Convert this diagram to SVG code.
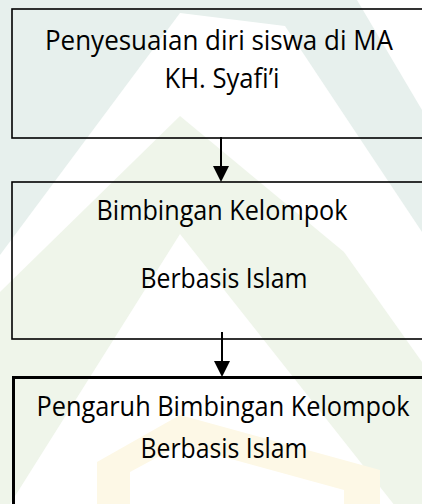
<svg xmlns="http://www.w3.org/2000/svg" width="422" height="504" viewBox="0 0 422 504">
  <style>
    .box { fill: none; stroke: #000; stroke-width: 1.6; }
    .box3 { fill: none; stroke: #000; stroke-width: 3; }
    .t { font-family: "Open Sans", "Noto Sans", "Liberation Sans", sans-serif; font-size: 26.5px; fill: #000; text-anchor: middle; }
    .conn { stroke: #000; stroke-width: 2; fill: none; }
    .head { fill: #000; }
  </style>
  <g id="watermark">
    <rect x="0" y="0" width="422" height="504" fill="#ffffff"/>
    <polygon points="0,0 357,0 422,110 422,504 0,504" fill="#e7f0ed"/>
    <polygon points="180,13 285,26 422,232 422,504 0,504 0,255" fill="#ffffff"/>
    <polygon points="180,116 344,252 422,362 422,504 0,504 0,292" fill="#eff5ea"/>
    <polygon points="180,234 422,540 422,504 0,504 0,520" fill="#ffffff"/>
    <polygon points="180,415 380,470 380,504 344,504 344,490 180,445 130,472 130,504 97,504 97,462" fill="#fdf8e6"/>
  </g>
  <g id="node1">
    <rect class="box" x="12" y="9" width="420" height="129"/>
    <text class="t" x="219" y="50" textLength="348" lengthAdjust="spacingAndGlyphs">Penyesuaian diri siswa di MA</text>
    <text class="t" x="222" y="88" textLength="115" lengthAdjust="spacingAndGlyphs">KH. Syafi’i</text>
  </g>
  <g id="node2">
    <rect class="box" x="12" y="182" width="420" height="157"/>
    <text class="t" x="222" y="220" textLength="251" lengthAdjust="spacingAndGlyphs">Bimbingan Kelompok</text>
    <text class="t" x="224" y="288" textLength="167" lengthAdjust="spacingAndGlyphs">Berbasis Islam</text>
  </g>
  <g id="node3">
    <rect class="box3" x="13.5" y="377.5" width="420" height="140"/>
    <text class="t" x="223" y="416" textLength="373" lengthAdjust="spacingAndGlyphs">Pengaruh Bimbingan Kelompok</text>
    <text class="t" x="224" y="458" textLength="167" lengthAdjust="spacingAndGlyphs">Berbasis Islam</text>
  </g>
  <g id="connectors">
    <line class="conn" x1="221" y1="137" x2="221" y2="168"/>
    <polygon class="head" points="213,166 229,166 221,182"/>
    <line class="conn" x1="222" y1="332" x2="222" y2="363"/>
    <polygon class="head" points="214,361 230,361 222,377"/>
  </g>
</svg>
